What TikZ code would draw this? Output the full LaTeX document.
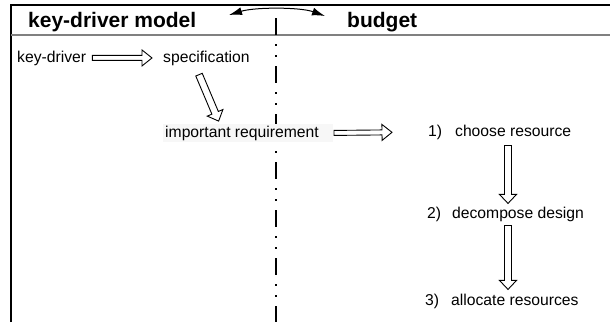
\documentclass[tikz,border=0pt]{standalone}
\usepackage{fontspec}
\setmainfont{Liberation Sans}
\usetikzlibrary{calc,arrows.meta}

\tikzset{
  % hollow block arrow: start gap, end gap, half shaft, half head, head length
  hollow/.style n args={5}{to path={
    let \p1=(\tikztostart), \p2=(\tikztotarget),
        \n1={atan2(\y2-\y1,\x2-\x1)}, \n2={veclen(\x2-\x1,\y2-\y1)}
    in {[shift={(\p1)}, rotate=\n1]
      (#1,-#3) -- ({\n2*1pt-#2-#5},-#3) -- ({\n2*1pt-#2-#5},-#4)
      -- ({\n2*1pt-#2},0pt) -- ({\n2*1pt-#2-#5},#4) -- ({\n2*1pt-#2-#5},#3)
      -- (#1,#3) -- cycle}
  }},
  harrow/.style 2 args={hollow={#1}{#2}{2.5pt}{8pt}{10pt}},
  varrow/.style 2 args={hollow={#1}{#2}{3.5pt}{8.5pt}{9pt}},
  blockline/.style={draw=black, line width=0.9pt, line join=miter},
  label/.style={anchor=base west, inner sep=0pt, font=\fontsize{15.7}{18}\selectfont},
  title/.style={anchor=base west, inner sep=0pt, font=\fontsize{21}{25}\selectfont\bfseries},
  divider/.style={line width=1.2pt, dash pattern=on 17pt off 9pt on 2pt off 9pt on 2pt off 9pt},
}

\begin{document}
\begin{tikzpicture}[x=1pt, y=-1pt]
  \useasboundingbox (0,0) rectangle (610,322);

  % frame and header rule
  \draw[line width=2pt] (11,322) -- (11,5) -- (610,5);
  \draw[gray, line width=1.5pt] (11,35) -- (610,35);

  % headers
  \node[title] (hkd) at (28,27) {key-driver model};
  \node[title] (hbu) at (347,27) {budget};

  % separator between the two halves
  \coordinate (divtop) at (276,18);
  \coordinate (divbot) at (276,322);
  \draw[divider] (divtop) -- (divbot);

  % two-way arrow between the headers
  \coordinate (swl) at (229,15);
  \coordinate (swr) at (325,16);
  \draw[line width=1pt, {Latex[length=13pt,width=8pt]}-{Latex[length=13pt,width=8pt]}]
    (swl) .. controls (255,7) and (300,7) .. (swr);

  % key-driver side
  \node[label] (kd)   at (17,62)  {key-driver};
  \node[label] (spec) at (163,62) {specification};
  \node[label, fill=black!3, inner xsep=2pt, inner ysep=2pt] (imp) at (163,137)
    {important requirement\kern12pt};

  % budget side
  \node[label] (s1) at (428,136) {1)\hspace{13pt}choose resource};
  \node[label] (s2) at (427,218) {2)\hspace{11pt}decompose design};
  \node[label] (s3) at (425,305) {3)\hspace{12pt}allocate resources};

  % hollow arrows
  \draw[blockline] (kd.east) to[harrow={6pt}{11pt}] (spec.west);
  \draw[blockline] ($(spec.south west)!.37!(spec.south east)$)
    to[varrow={10pt}{2.5pt}] ($(imp.north west)!.333!(imp.north east)$);
  \draw[blockline] (imp.east) to[harrow={1pt}{36pt}] (s1.west);
  \draw[blockline] ([xshift=80pt]s1.south west) to[varrow={6pt}{3pt}] ([xshift=81pt]s2.north west);
  \draw[blockline] ([xshift=81pt]s2.south west) to[varrow={4pt}{4pt}] ([xshift=83pt]s3.north west);
\end{tikzpicture}
\end{document}
